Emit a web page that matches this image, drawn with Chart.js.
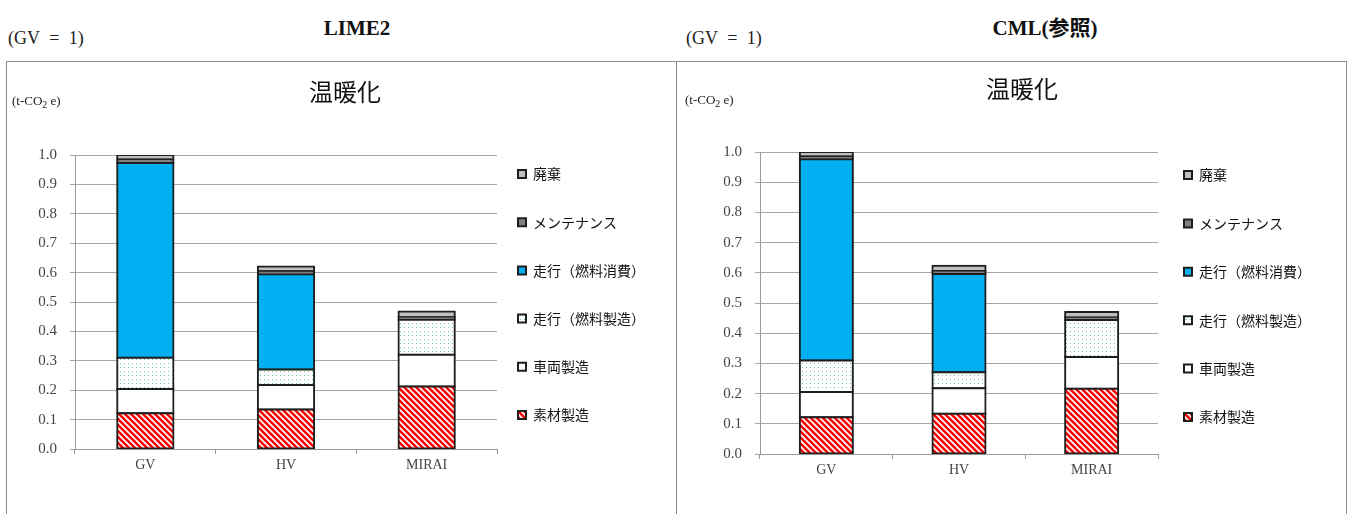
<!DOCTYPE html>
<html lang="ja">
<head>
<meta charset="utf-8">
<script src="https://cdn.jsdelivr.net/npm/chart.js"></script>
<style>
  body { margin: 0; background: #fff; overflow: hidden; width: 1352px; height: 514px; position: relative; }
  .note { position: absolute; font-family: 'Liberation Serif', serif; font-size: 18px; line-height: 18px; color: #222; white-space: pre; word-spacing: 5px; }
  .head { position: absolute; font-family: 'Liberation Serif', 'Noto Sans CJK JP', serif; font-weight: bold; font-size: 21px; line-height: 21px; color: #111; transform: translateX(-50%); white-space: nowrap; }
  .panel { position: absolute; top: 61px; height: 480px; border: 1px solid #8c8c8c; box-sizing: border-box; }
  .unit { position: absolute; font-family: 'Liberation Serif', serif; font-size: 13px; line-height: 13px; color: #222; white-space: pre; }
  .unit sub { font-size: 10px; vertical-align: -3px; }
  canvas { position: absolute; }
</style>
</head>
<body>
<div class="note" style="left:8px; top:29px;">(GV = 1)</div>
<div class="head" style="left:357px; top:18px;">LIME2</div>
<div class="note" style="left:686px; top:29px;">(GV = 1)</div>
<div class="head" style="left:1045px; top:18px;">CML(参照)</div>

<div class="panel" style="left:6px; width:671px;"></div>
<div class="panel" style="left:676px; width:671px;"></div>

<canvas id="lime" width="669" height="465" style="left:7px; top:62px;"></canvas>
<canvas id="cml" width="670" height="468" style="left:677px; top:62px;"></canvas>

<div class="unit" style="left:12px; top:94px;">(t-CO<sub>2</sub> e)</div>
<div class="unit" style="left:685px; top:93px;">(t-CO<sub>2</sub> e)</div>

<script>
const categories = ['GV', 'HV', 'MIRAI'];
const stages = ['素材製造', '車両製造', '走行（燃料製造）', '走行（燃料消費）', 'メンテナンス', '廃棄'];

// LIME2
const limeMaterial = [0.122, 0.134, 0.213];
const limeVehicle = [0.082, 0.084, 0.108];
const limeFuelProd = [0.106, 0.052, 0.119];
const limeFuelUse = [0.663, 0.324, 0];
const limeMaint = [0.012, 0.011, 0.008];
const limeDisposal = [0.015, 0.016, 0.020];

// CML
const cmlMaterial = [0.122, 0.133, 0.216];
const cmlVehicle = [0.083, 0.085, 0.105];
const cmlFuelProd = [0.105, 0.053, 0.123];
const cmlFuelUse = [0.666, 0.325, 0];
const cmlMaint = [0.009, 0.010, 0.008];
const cmlDisposal = [0.015, 0.017, 0.018];

const yMax = 1.0;
const yStep = 0.1;

function stripes(ctx) {
  const c = document.createElement('canvas');
  c.width = 6; c.height = 6;
  const g = c.getContext('2d');
  g.fillStyle = '#ffffff';
  g.fillRect(0, 0, 6, 6);
  g.strokeStyle = '#ff0000';
  g.lineWidth = 2.6;
  g.beginPath();
  g.moveTo(-1, -1); g.lineTo(7, 7);
  g.moveTo(-1, 5); g.lineTo(1, 7);
  g.moveTo(5, -1); g.lineTo(7, 1);
  g.stroke();
  return ctx.createPattern(c, 'repeat');
}

function dots(ctx) {
  const c = document.createElement('canvas');
  c.width = 4; c.height = 4;
  const g = c.getContext('2d');
  g.fillStyle = '#ffffff';
  g.fillRect(0, 0, 4, 4);
  g.fillStyle = '#6cc99a';
  g.fillRect(1, 1, 1, 1);
  return ctx.createPattern(c, 'repeat');
}

// fixes legend width and where its boxes start
const legendPlace = {
  id: 'legendPlace',
  beforeInit(chart, args, opts) {
    const fit = chart.legend.fit;
    chart.legend.fit = function () {
      fit.call(this);
      this.width = opts.width;
    };
  },
  afterLayout(chart, args, opts) {
    chart.legend.left = opts.boxX - chart.options.plugins.legend.labels.padding;
  }
};

function drawPanel(id, series, opt) {
  const canvas = document.getElementById(id);
  const ctx = canvas.getContext('2d');
  const fills = [stripes(ctx), '#ffffff', dots(ctx), '#00b0f0', '#7f7f7f', '#bfbfbf'];

  const datasets = stages.map(function (name, i) {
    return {
      label: name,
      data: series[i],
      backgroundColor: fills[i],
      borderColor: '#1e1e1e',
      borderWidth: 2,
      borderSkipped: false,
      inflateAmount: 1, // closes the seams between stacked pieces
      barPercentage: 0.4,
      categoryPercentage: 1
    };
  });

  return new Chart(canvas, {
    type: 'bar',
    data: { labels: categories, datasets: datasets },
    options: {
      responsive: false,
      animation: false,
      layout: { padding: { left: opt.padLeft } },
      scales: {
        x: {
          stacked: true,
          grid: { drawOnChartArea: false, tickLength: 5, color: '#999999' },
          border: { color: '#999999' },
          ticks: { font: { family: 'Liberation Serif', size: 14 }, color: '#444444', padding: 3 },
          afterFit: function (scale) { scale.height = opt.xHeight; }
        },
        y: {
          stacked: true,
          min: 0,
          max: yMax,
          ticks: {
            stepSize: yStep,
            font: { family: 'Liberation Serif', size: 15 },
            color: '#444444',
            padding: 13,
            callback: function (v) { return v.toFixed(1); }
          },
          grid: { color: '#a6a6a6', tickLength: 5 },
          border: { color: '#999999' },
          afterFit: function (scale) { scale.width = opt.yWidth; }
        }
      },
      plugins: {
        title: {
          display: true,
          text: '温暖化',
          color: '#111111',
          font: { family: 'Noto Sans CJK JP', size: 24, weight: 'normal' },
          padding: { top: opt.titleTop, bottom: opt.titleBottom }
        },
        legend: {
          position: 'right',
          reverse: true,
          labels: {
            boxWidth: 8,
            boxHeight: 8,
            padding: opt.legendGap,
            color: '#111111',
            font: { family: 'Noto Sans CJK JP', size: 14 }
          }
        },
        tooltip: { enabled: false },
        legendPlace: { width: opt.legendWidth, boxX: opt.legendBoxX }
      }
    },
    plugins: [legendPlace]
  });
}

drawPanel('lime',
  [limeMaterial, limeVehicle, limeFuelProd, limeFuelUse, limeMaint, limeDisposal],
  { padLeft: 7, yWidth: 61, xHeight: 78, titleTop: 15.6, titleBottom: 48.6, legendWidth: 179, legendBoxX: 511, legendGap: 34.2 });

drawPanel('cml',
  [cmlMaterial, cmlVehicle, cmlFuelProd, cmlFuelUse, cmlMaint, cmlDisposal],
  { padLeft: 20, yWidth: 63, xHeight: 76, titleTop: 12.6, titleBottom: 48.6, legendWidth: 189, legendBoxX: 507, legendGap: 34.4 });
</script>
</body>
</html>
